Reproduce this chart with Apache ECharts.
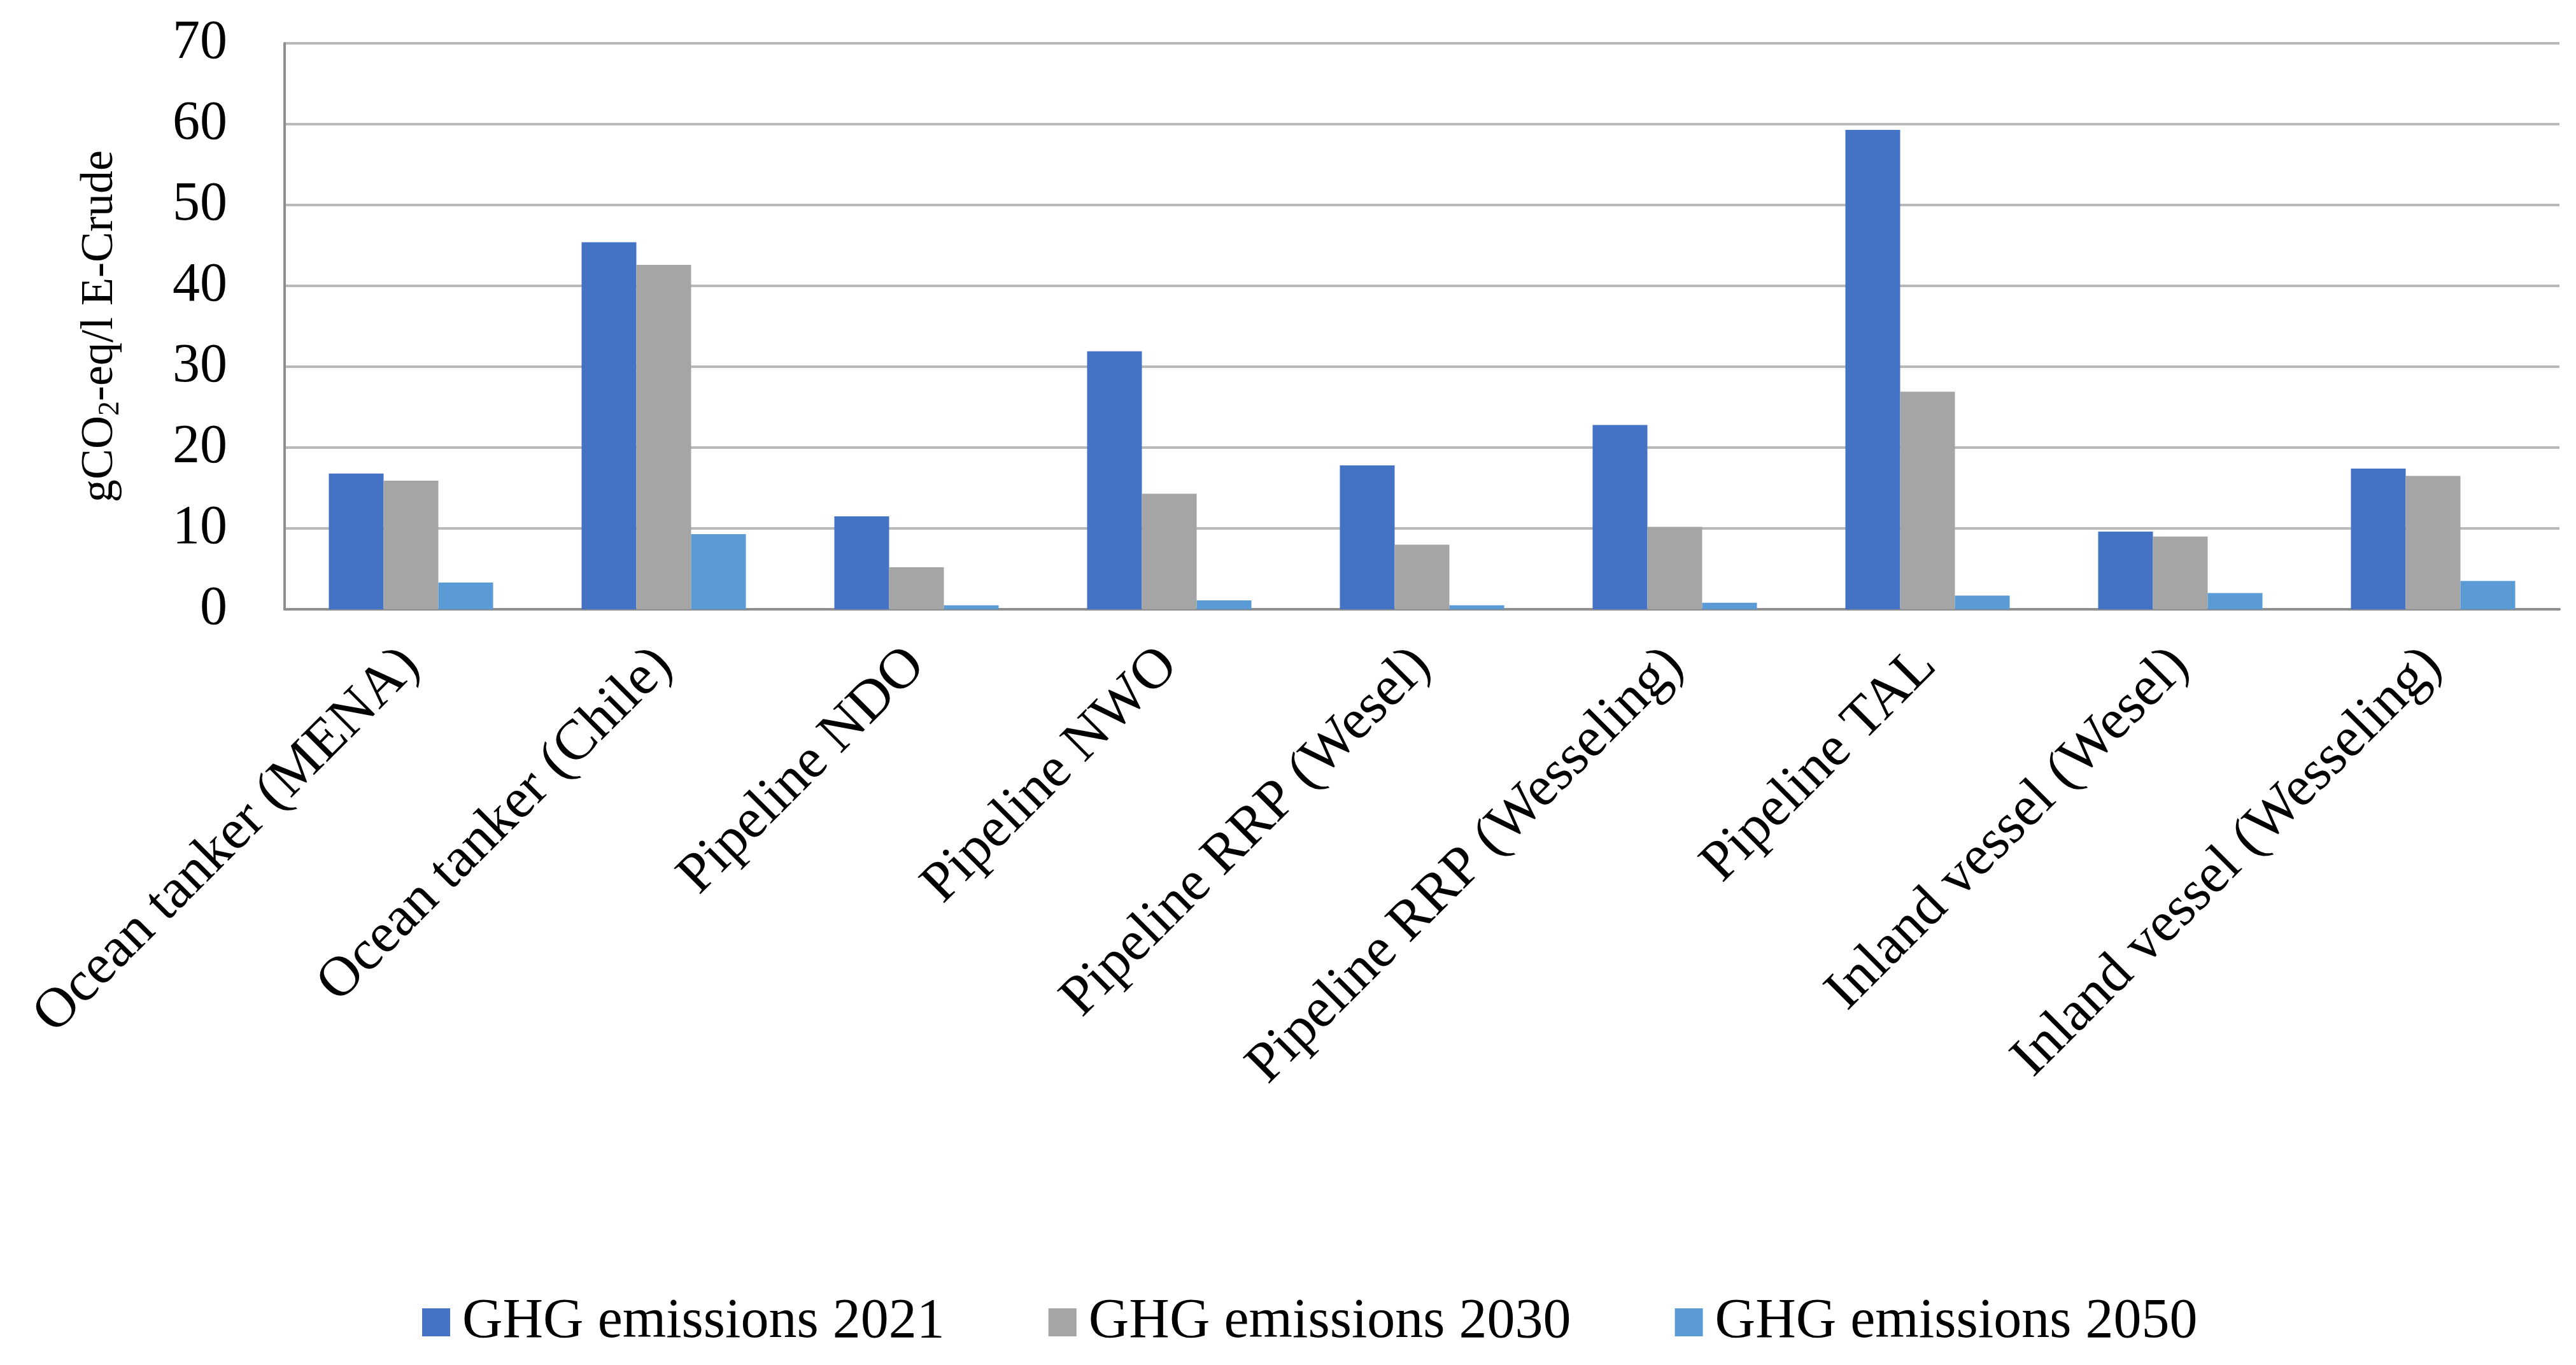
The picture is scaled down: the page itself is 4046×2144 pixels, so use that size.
<!DOCTYPE html>
<html>
<head>
<meta charset="utf-8">
<script src="https://cdn.jsdelivr.net/npm/echarts@6/dist/echarts.min.js"></script>
<style>
html,body{margin:0;padding:0;background:#fff;}
#chart{width:4046px;height:2144px;}
</style>
</head>
<body>
<div id="chart"></div>
<script>
const categories = [
  "Ocean tanker (MENA)",
  "Ocean tanker (Chile)",
  "Pipeline NDO",
  "Pipeline NWO",
  "Pipeline RRP (Wesel)",
  "Pipeline RRP (Wesseling)",
  "Pipeline TAL",
  "Inland vessel (Wesel)",
  "Inland vessel (Wesseling)"
];
const seriesNames = ["GHG emissions 2021", "GHG emissions 2030", "GHG emissions 2050"];
const ghg2021 = [16.8, 45.4, 11.5, 31.9, 17.8, 22.8, 59.3, 9.6, 17.4];
const ghg2030 = [15.9, 42.6, 5.2, 14.3, 8.0, 10.2, 26.9, 9.0, 16.5];
const ghg2050 = [3.3, 9.3, 0.5, 1.1, 0.5, 0.8, 1.7, 2.0, 3.5];
const yTicks = { min: 0, max: 70, interval: 10 };
const colors = ["#4472C4", "#A5A5A5", "#5B9BD5"];

const FONT = "Liberation Serif";
const chart = echarts.init(document.getElementById('chart'), null, { renderer: 'canvas' });
const dataSets = [ghg2021, ghg2030, ghg2050];

chart.setOption({
  backgroundColor: '#ffffff',
  animation: false,
  color: colors,
  grid: { left: 447, right: 26, top: 68, bottom: 1187, containLabel: false },
  legend: {
    data: seriesNames,
    left: 658,
    top: 2028,
    icon: 'rect',
    itemWidth: 44,
    itemHeight: 44,
    itemGap: 163,
    textStyle: { fontFamily: FONT, fontSize: 88, color: '#000', padding: [0, 0, 0, 14] }
  },
  xAxis: {
    type: 'category',
    data: categories,
    axisLine: { show: true, lineStyle: { color: '#8E8E8E', width: 4 } },
    axisTick: { show: false },
    axisLabel: {
      rotate: 45,
      interval: 0,
      margin: 75,
      fontFamily: FONT,
      fontSize: 89,
      color: '#000'
    }
  },
  yAxis: {
    type: 'value',
    min: yTicks.min,
    max: yTicks.max,
    interval: yTicks.interval,
    name: '{a|gCO}{s|2}{a|-eq/l E-Crude}',
    nameLocation: 'middle',
    nameRotate: 90,
    nameGap: 250,
    nameTextStyle: {
      rich: {
        a: { fontFamily: FONT, fontSize: 72, color: '#000', lineHeight: 80 },
        s: { fontFamily: FONT, fontSize: 46, color: '#000', lineHeight: 40, verticalAlign: 'bottom' }
      }
    },
    axisLine: { show: true, lineStyle: { color: '#8E8E8E', width: 4 } },
    axisTick: { show: false },
    splitLine: { show: true, lineStyle: { color: '#B9B9B9', width: 4 } },
    axisLabel: { fontFamily: FONT, fontSize: 86, color: '#000', margin: 90 }
  },
  series: seriesNames.map((name, i) => ({
    name: name,
    type: 'bar',
    data: dataSets[i],
    barGap: '0%',
    barCategoryGap: '35%',
    itemStyle: { color: colors[i] }
  }))
});
</script>
</body>
</html>
